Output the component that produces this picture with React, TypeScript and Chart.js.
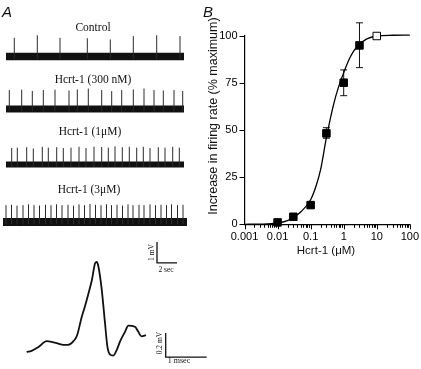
import React, { useEffect, useRef } from "react";
import { Chart, registerables } from "chart.js";
Chart.register(...registerables);

// ---------- Panel A: extracellular recordings ----------
const traceLabels = ["Control", "Hcrt-1 (300 nM)", "Hcrt-1 (1μM)", "Hcrt-1 (3μM)"];
const traceStart = [0, 0, 0, -0.3]; // s
const traceEnd = [17.8, 17.8, 17.8, 18.1]; // s

const spikeTimesControl = [0.83, 3.13, 5.4, 8.13, 10.43, 12.73, 15.07, 17.4];
const spikeAmpControl = [0.89, 1.01, 0.89, 0.87, 0.81, 0.97, 1.01, 0.97];

const spikeTimes300nM = [0.33, 1.57, 2.63, 3.73, 4.9, 6.3, 7.13, 8.23, 9.57, 10.57, 11.57, 12.73, 13.8, 14.8, 15.73, 16.8, 17.67];
const spikeAmp300nM = [0.9, 0.92, 0.86, 0.9, 0.92, 0.88, 0.93, 0.97, 0.9, 0.85, 0.9, 0.93, 0.97, 0.9, 0.88, 0.9, 0.86];

const spikeTimes1uM = [0.57, 1.13, 2.07, 2.73, 3.63, 4.23, 5.07, 5.73, 6.5, 7.3, 8.0, 8.8, 9.57, 10.23, 10.9, 11.63, 12.33, 13.07, 13.73, 14.4, 15.23, 15.9, 16.67, 17.33];
const spikeAmp1uM = [0.78, 0.8, 0.82, 0.76, 0.84, 0.8, 0.82, 0.78, 0.8, 0.84, 0.78, 0.85, 0.83, 0.8, 0.86, 0.82, 0.84, 0.8, 0.84, 0.78, 0.82, 0.8, 0.84, 0.8];

const spikeTimes3uM = [0.0, 0.55, 1.1, 1.7, 2.25, 2.8, 3.35, 3.95, 4.5, 5.05, 5.6, 6.2, 6.75, 7.3, 7.85, 8.4, 8.95, 9.5, 10.05, 10.55, 11.1, 11.65, 12.2, 12.7, 13.3, 13.8, 14.4, 14.95, 15.5, 16.05, 16.55, 17.15, 17.7];
const spikeAmp3uM = [0.8, 0.82, 0.78, 0.8, 0.84, 0.8, 0.78, 0.82, 0.8, 0.84, 0.8, 0.82, 0.78, 0.84, 0.8, 0.86, 0.82, 0.8, 0.84, 0.8, 0.82, 0.78, 0.84, 0.8, 0.82, 0.8, 0.84, 0.8, 0.82, 0.8, 0.84, 0.8, 0.82];

const spikeTimes = [spikeTimesControl, spikeTimes300nM, spikeTimes1uM, spikeTimes3uM];
const spikeAmps = [spikeAmpControl, spikeAmp300nM, spikeAmp1uM, spikeAmp3uM];

// averaged spike waveform (ms, mV)
const waveTime = [0, 0.12, 0.28, 0.49, 0.65, 0.77, 0.89, 1.01, 1.14, 1.23, 1.34, 1.42, 1.5, 1.59, 1.67, 1.71, 1.75, 1.83, 1.91, 1.97, 2.03, 2.11, 2.2, 2.28, 2.4, 2.48, 2.64, 2.72, 2.8, 2.91];
const waveVolt = [0, 0.01, 0.04, 0.09, 0.08, 0.07, 0.06, 0.06, 0.09, 0.14, 0.29, 0.38, 0.48, 0.6, 0.74, 0.75, 0.71, 0.52, 0.24, 0.04, -0.02, -0.03, 0.02, 0.09, 0.17, 0.22, 0.21, 0.17, 0.13, 0.14];

// scale bars
const traceBarTime = 2; // s
const traceBarVolt = 1; // mV
const waveBarTime = 1; // ms
const waveBarVolt = 0.2; // mV

// ---------- Panel B: dose response ----------
const concentrations = [0.01, 0.03, 0.1, 0.3, 1, 3]; // µM
const responses = [1.0, 4.0, 10.2, 48.3, 75.2, 95.0];
const errLow = [null, null, null, 45.7, 68.3, 83.2];
const errHigh = [null, null, null, 51.3, 82.0, 107.0];
const openConc = [10];
const openResp = [100];
const fitConc = [0.001, 0.003, 0.01, 0.02, 0.03, 0.05, 0.1, 0.15, 0.2, 0.3, 0.5, 0.7, 1, 1.5, 2, 3, 5, 10, 30, 100];
const fitResp = [0, 0.1, 0.7, 2.0, 3.6, 6.5, 13, 21, 29, 46, 64, 73, 80.5, 88, 92, 95.5, 98.5, 100, 100.4, 100.5];
const xTickValues = [0.001, 0.01, 0.1, 1, 10, 100];
const xTickLabels = ["0.001", "0.01", "0.1", "1", "10", "100"];
const xMinorMultiples = [2, 3, 4, 5, 6, 7, 8, 9];
const yTickValues = [0, 25, 50, 75, 100];

// layout (pixels / styling)
const A_W = 215;
const A_H = 369;
const B_W = 221;
const B_H = 269;
const bandOffsets = [2.69, 5.19, 7.83, 10.57]; // vertical placement of traces (mV units of the trace scale)
const bandWidths = [7.5, 7, 6, 8];
const SERIF = '"Liberation Serif", "Times New Roman", serif';
const SANS = '"Liberation Sans", Arial, sans-serif';

function spikeData(times: number[], amps: number[], base: number) {
  const out: any[] = [];
  times.forEach((t, i) => {
    out.push({ x: t, y: base - 0.12 }, { x: t, y: base + amps[i] }, { x: t, y: null });
  });
  return out;
}

function PanelA() {
  const ref = useRef<HTMLCanvasElement>(null);
  useEffect(() => {
    const datasets: any[] = [];
    traceLabels.forEach((_, i) => {
      const base = -bandOffsets[i];
      datasets.push({
        data: spikeData(spikeTimes[i], spikeAmps[i], base),
        xAxisID: "xs",
        yAxisID: "ys",
        borderColor: "#2a2a2a",
        borderWidth: 1,
        pointRadius: 0,
        spanGaps: false,
        tension: 0,
      });
      datasets.push({
        data: [
          { x: traceStart[i], y: base },
          { x: traceEnd[i], y: base },
        ],
        xAxisID: "xs",
        yAxisID: "ys",
        borderColor: "#111",
        borderWidth: bandWidths[i],
        borderCapStyle: "butt",
        pointRadius: 0,
      });
    });
    // trace scale bar
    const tb0 = 15.1;
    const vb0 = -12.52;
    datasets.push({
      data: [
        { x: tb0, y: vb0 + traceBarVolt },
        { x: tb0, y: vb0 },
        { x: tb0 + traceBarTime, y: vb0 },
      ],
      xAxisID: "xs",
      yAxisID: "ys",
      borderColor: "#111",
      borderWidth: 1.3,
      pointRadius: 0,
      tension: 0,
    });
    // waveform
    datasets.push({
      data: waveTime.map((t, i) => ({ x: t, y: waveVolt[i] })),
      xAxisID: "xw",
      yAxisID: "yw",
      borderColor: "#111",
      borderWidth: 1.8,
      pointRadius: 0,
      cubicInterpolationMode: "monotone",
    });
    const wb0 = 3.39;
    const wv0 = -0.042;
    datasets.push({
      data: [
        { x: wb0, y: wv0 + waveBarVolt },
        { x: wb0, y: wv0 },
        { x: wb0 + waveBarTime, y: wv0 },
      ],
      xAxisID: "xw",
      yAxisID: "yw",
      borderColor: "#111",
      borderWidth: 1.3,
      pointRadius: 0,
      tension: 0,
    });

    const labelsPlugin = {
      id: "panelALabels",
      afterDraw(chart: any) {
        const ctx = chart.ctx;
        ctx.save();
        ctx.fillStyle = "#111";
        ctx.font = `italic 15px ${SANS}`;
        ctx.textAlign = "left";
        ctx.textBaseline = "alphabetic";
        ctx.fillText("A", 2, 17);
        ctx.font = `11.5px ${SERIF}`;
        ctx.textAlign = "center";
        ctx.textBaseline = "middle";
        const pos = [
          [93, 28],
          [93, 80],
          [90, 132],
          [89, 190],
        ];
        traceLabels.forEach((l, i) => ctx.fillText(l, pos[i][0], pos[i][1]));
        ctx.font = `7.5px ${SERIF}`;
        ctx.fillText("2 sec", 166, 270);
        ctx.font = `8px ${SERIF}`;
        ctx.fillText("1 msec", 179, 361);
        ctx.save();
        ctx.translate(152.5, 252.5);
        ctx.rotate(-Math.PI / 2);
        ctx.font = `7.5px ${SERIF}`;
        ctx.fillText("1 mV", 0, 0);
        ctx.restore();
        ctx.save();
        ctx.translate(160.5, 343);
        ctx.rotate(-Math.PI / 2);
        ctx.font = `7.5px ${SERIF}`;
        ctx.fillText("0.2 mV", 0, 0);
        ctx.restore();
        ctx.restore();
      },
    };

    const chart = new Chart(ref.current as HTMLCanvasElement, {
      type: "line",
      data: { datasets },
      options: {
        animation: false,
        responsive: false,
        devicePixelRatio: 1,
        layout: { padding: 0 },
        plugins: { legend: { display: false }, tooltip: { enabled: false }, title: { display: false } },
        scales: {
          xs: { type: "linear", display: false, min: -0.6, max: -0.6 + A_W / 10 },
          ys: { type: "linear", display: false, min: -A_H / 21, max: 0 },
          xw: { type: "linear", display: false, min: -26.7 / 41, max: -26.7 / 41 + A_W / 41 },
          yw: { type: "linear", display: false, min: -0.1417, max: -0.1417 + A_H / 120 },
        },
      } as any,
      plugins: [labelsPlugin],
    });
    return () => chart.destroy();
  }, []);
  return (
    <canvas
      ref={ref}
      width={A_W}
      height={A_H}
      style={{ position: "absolute", left: 0, top: 0, width: A_W, height: A_H }}
    />
  );
}

function PanelB() {
  const ref = useRef<HTMLCanvasElement>(null);
  useEffect(() => {
    const extras = {
      id: "panelBExtras",
      beforeDatasetsDraw(chart: any) {
        const ctx = chart.ctx;
        const xs = chart.scales.x;
        const ys = chart.scales.y;
        ctx.save();
        ctx.strokeStyle = "#111";
        ctx.lineWidth = 1;
        concentrations.forEach((c, i) => {
          if (errLow[i] == null || errHigh[i] == null) return;
          const px = xs.getPixelForValue(c);
          const y1 = ys.getPixelForValue(errLow[i] as number);
          const y2 = ys.getPixelForValue(errHigh[i] as number);
          ctx.beginPath();
          ctx.moveTo(px, y1);
          ctx.lineTo(px, y2);
          ctx.moveTo(px - 3.5, y1);
          ctx.lineTo(px + 3.5, y1);
          ctx.moveTo(px - 3.5, y2);
          ctx.lineTo(px + 3.5, y2);
          ctx.stroke();
        });
        ctx.restore();
      },
      afterDraw(chart: any) {
        const ctx = chart.ctx;
        const xs = chart.scales.x;
        const area = chart.chartArea;
        ctx.save();
        ctx.strokeStyle = "#000";
        ctx.lineWidth = 1;
        // x-axis tick marks: long at decades, short at intermediate multiples
        xTickValues.forEach((dec, d) => {
          const px = Math.round(xs.getPixelForValue(dec)) + 0.5;
          ctx.beginPath();
          ctx.moveTo(px, area.bottom);
          ctx.lineTo(px, area.bottom + 5);
          ctx.stroke();
          if (d < xTickValues.length - 1) {
            xMinorMultiples.forEach((k) => {
              const mx = Math.round(xs.getPixelForValue(k * dec)) + 0.5;
              ctx.beginPath();
              ctx.moveTo(mx, area.bottom);
              ctx.lineTo(mx, area.bottom + 3.5);
              ctx.stroke();
            });
          }
        });
        ctx.fillStyle = "#111";
        ctx.font = `italic 15px ${SANS}`;
        ctx.textAlign = "left";
        ctx.textBaseline = "alphabetic";
        ctx.fillText("B", 3, 17);
        ctx.font = `11.5px ${SANS}`;
        ctx.textAlign = "center";
        ctx.textBaseline = "middle";
        ctx.fillText("Hcrt-1 (μM)", 126, 251);
        ctx.save();
        ctx.translate(14, 116);
        ctx.rotate(-Math.PI / 2);
        ctx.font = `12.5px ${SANS}`;
        ctx.fillText("Increase in firing rate (% maximum)", 0, 0);
        ctx.restore();
        ctx.restore();
      },
    };

    const chart = new Chart(ref.current as HTMLCanvasElement, {
      type: "line",
      data: {
        datasets: [
          {
            data: concentrations.map((c, i) => ({ x: c, y: responses[i] })),
            showLine: false,
            pointStyle: "rect",
            pointRadius: 5.3,
            pointBackgroundColor: "#000",
            pointBorderColor: "#000",
            pointBorderWidth: 1,
            clip: false,
            order: 0,
          },
          {
            data: openConc.map((c, i) => ({ x: c, y: openResp[i] })),
            showLine: false,
            pointStyle: "rect",
            pointRadius: 5.3,
            pointBackgroundColor: "#fff",
            pointBorderColor: "#000",
            pointBorderWidth: 1,
            clip: false,
            order: 0,
          },
          {
            data: fitConc.map((c, i) => ({ x: c, y: fitResp[i] })),
            borderColor: "#000",
            borderWidth: 1.3,
            pointRadius: 0,
            cubicInterpolationMode: "monotone",
            clip: false,
            order: 1,
          },
        ],
      },
      options: {
        animation: false,
        responsive: false,
        devicePixelRatio: 1,
        layout: { padding: { top: 36, right: 10.2, left: 0, bottom: 0 } },
        plugins: { legend: { display: false }, tooltip: { enabled: false } },
        scales: {
          x: {
            type: "logarithmic",
            min: 0.001,
            max: 100,
            border: { display: true, color: "#000", width: 1.2 },
            grid: {
              drawOnChartArea: false,
              drawTicks: true,
              tickLength: 4.5,
              tickColor: "rgba(0,0,0,0)",
            },
            afterBuildTicks: (scale: any) => {
              scale.ticks = xTickValues.map((v) => ({ value: v }));
            },
            ticks: {
              autoSkip: false,
              maxRotation: 0,
              padding: 2,
              color: "#000",
              font: { family: SANS, size: 11 },
              callback: (v: any) => {
                const idx = xTickValues.findIndex((t) => Math.abs(t - v) / t < 1e-6);
                return idx >= 0 ? xTickLabels[idx] : "";
              },
            },
            afterFit: (scale: any) => {
              scale.height = B_H - 224.3;
            },
          },
          y: {
            type: "linear",
            min: 0,
            max: 100,
            border: { display: true, color: "#000", width: 1.2 },
            grid: { drawOnChartArea: false, drawTicks: true, tickLength: 5, tickColor: "#000" },
            afterBuildTicks: (scale: any) => {
              scale.ticks = yTickValues.map((v) => ({ value: v }));
            },
            ticks: {
              padding: 2,
              color: "#000",
              font: { family: SANS, size: 11 },
            },
            afterFit: (scale: any) => {
              scale.width = 44.5;
            },
          },
        },
      } as any,
      plugins: [extras],
    });
    return () => chart.destroy();
  }, []);
  return (
    <canvas
      ref={ref}
      width={B_W}
      height={B_H}
      style={{ position: "absolute", left: 200, top: 0, width: B_W, height: B_H }}
    />
  );
}

export default function App() {
  return (
    <div style={{ position: "absolute", left: 0, top: 0, width: 421, height: 369, background: "#fff", overflow: "hidden" }}>
      <PanelA />
      <PanelB />
    </div>
  );
}
